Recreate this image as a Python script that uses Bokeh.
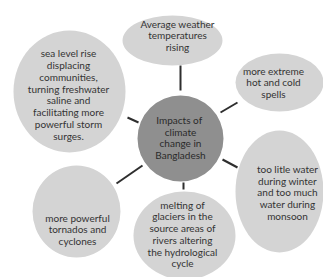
from bokeh.plotting import figure
from bokeh.models import Range1d, ColumnDataSource
from bokeh.core.properties import value
from bokeh.embed import file_html
from bokeh.resources import INLINE

# Diagram content
center_label = ["Impacts  of\nclimate\nchange in\nBangladesh"]
node_labels = [
    "Average weather\ntemperatures\nrising",
    "more extreme\nhot and cold\nspells",
    "too litle water\nduring winter\nand too much\nwater during\nmonsoon",
    "melting of\nglaciers in the\nsource areas of\nrivers altering\nthe hydrological\ncycle",
    "more powerful\ntornados and\ncyclones",
    "sea level rise\ndisplacing\ncommunities,\nturning freshwater\nsaline and\nfacilitating more\npowerful storm\nsurges.",
]

# Layout (reference pixel coordinates, y downward)
node_x = [172, 279, 279, 184, 76, 69]
node_y = [40, 82, 191, 235, 211, 91]
node_w = [100, 88, 88, 102, 88, 112]
node_h = [50, 58, 122, 88, 92, 122]
text_x = [177, 273, 287, 182, 77, 68]
text_y = [35, 82, 192, 233.5, 229, 94]

cx, cy, cr = [180], [138], [86]

con_x0 = [180, 220, 127, 222, 116, 183]
con_y0 = [65, 112, 117, 159, 183, 182]
con_x1 = [180, 237, 138, 237, 142, 183]
con_y1 = [90, 102, 122, 167, 165, 189]

neg = lambda a: [-v for v in a]

p = figure(width=323, height=277, output_backend="svg", toolbar_location=None,
           x_range=Range1d(0, 323), y_range=Range1d(-277, 0),
           min_border=0, outline_line_color=None)
p.axis.visible = False
p.grid.visible = False
p.background_fill_color = "white"

p.segment(x0=con_x0, y0=neg(con_y0), x1=con_x1, y1=neg(con_y1),
          line_color="#2e2e2e", line_width=2)

p.ellipse(x=node_x, y=neg(node_y), width=node_w, height=node_h,
          fill_color="#d4d4d4", line_color=None)
p.ellipse(x=cx, y=neg(cy), width=cr, height=cr,
          fill_color="#8f8f8f", line_color=None)

src = ColumnDataSource(dict(x=text_x, y=neg(text_y), t=node_labels))
p.text(x="x", y="y", text="t", source=src, text_align="center",
       text_baseline="middle", text_font=value("Lato"), text_font_size="10px",
       text_color="#333333", text_line_height=0.98)
p.text(x=[180], y=[-137], text=center_label, text_align="center",
       text_baseline="middle", text_font=value("Lato"), text_font_size="10px",
       text_color="#2a2a2a", text_line_height=0.98)

open("out.html", "w").write(file_html(p, INLINE))
